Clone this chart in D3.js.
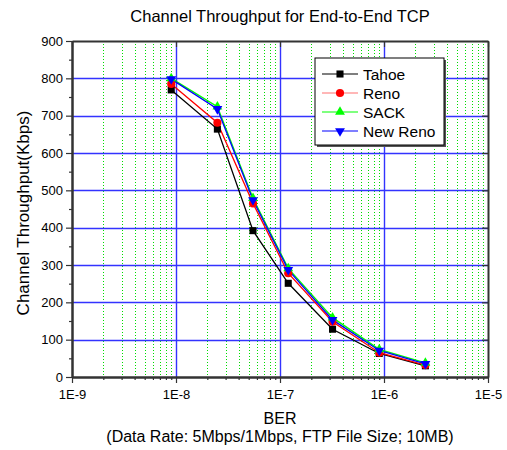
<!DOCTYPE html>
<html>
<head>
<meta charset="utf-8">
<script src="https://cdn.jsdelivr.net/npm/d3@7"></script>
<style>
  body { margin: 0; background: #fff; }
  text { font-family: "Liberation Sans", Arial, sans-serif; fill: #000; }
</style>
</head>
<body>
<svg id="chart" width="507" height="450"></svg>
<script>
// data
const ber = [9e-9, 2.5e-8, 5.5e-8, 1.2e-7, 3.2e-7, 9e-7, 2.5e-6];
const tahoe = [769, 664, 392, 251, 128, 63, 30];
const reno = [785, 681, 465, 278, 148, 65, 32];
const sack = [800, 724, 479, 291, 159, 74, 38];
const newReno = [798, 718, 474, 287, 153, 71, 35];
const seriesNames = ['Tahoe', 'Reno', 'SACK', 'New Reno'];
const xTicks = [1e-9, 1e-8, 1e-7, 1e-6, 1e-5];
const xTickLabels = ['1E-9', '1E-8', '1E-7', '1E-6', '1E-5'];
const yTicks = [0, 100, 200, 300, 400, 500, 600, 700, 800, 900];

const series = [
    { name: seriesNames[0], values: tahoe, color: '#000000', shape: 'square' },
    { name: seriesNames[1], values: reno, color: '#ff0000', shape: 'circle' },
    { name: seriesNames[2], values: sack, color: '#00ff00', shape: 'triangle' },
    { name: seriesNames[3], values: newReno, color: '#0000ff', shape: 'triangleDown' }
];

const margin = { left: 72, right: 19, top: 41, bottom: 73 };
const width = 507, height = 450;
const svg = d3.select('#chart');

const x = d3.scaleLog().domain([1e-9, 1e-5]).range([margin.left, width - margin.right]);
const y = d3.scaleLinear().domain([0, 900]).range([height - margin.bottom, margin.top]);

// minor decade ticks 2..9
const minorX = [];
for (let e = -9; e < -5; e++) {
    for (let m = 2; m <= 9; m++) minorX.push(m * Math.pow(10, e));
}
const minorY = d3.range(50, 900, 100);

// grid
const grid = svg.append('g').attr('class', 'grid');
grid.selectAll('line.minor-x')
    .data(minorX)
    .enter()
    .append('line')
    .attr('x1', d => Math.round(x(d)) + 0.5)
    .attr('x2', d => Math.round(x(d)) + 0.5)
    .attr('y1', y(900))
    .attr('y2', y(0))
    .attr('stroke', '#00dd00')
    .attr('stroke-width', 1)
    .attr('stroke-dasharray', '1,2');

grid.selectAll('line.major-x')
    .data(xTicks.slice(1, -1))
    .enter()
    .append('line')
    .attr('x1', d => Math.round(x(d)) + 0.5)
    .attr('x2', d => Math.round(x(d)) + 0.5)
    .attr('y1', y(900))
    .attr('y2', y(0))
    .attr('stroke', '#3333ff')
    .attr('stroke-width', 1.4);

grid.selectAll('line.major-y')
    .data(yTicks.slice(1, -1))
    .enter()
    .append('line')
    .attr('x1', x(1e-9))
    .attr('x2', x(1e-5))
    .attr('y1', d => Math.round(y(d)) + 0.5)
    .attr('y2', d => Math.round(y(d)) + 0.5)
    .attr('stroke', '#3333ff')
    .attr('stroke-width', 1.4);

// axes
const axisColor = '#333';
const bottomAxis = svg.append('g')
    .attr('transform', `translate(0,${y(0)})`)
    .call(d3.axisBottom(x).tickValues(xTicks).tickFormat((d, i) => xTickLabels[i]).tickSize(6).tickSizeOuter(0));
const bottomMinor = svg.append('g')
    .attr('transform', `translate(0,${y(0)})`)
    .call(d3.axisBottom(x).tickValues(minorX).tickFormat('').tickSize(3).tickSizeOuter(0));
const leftAxis = svg.append('g')
    .attr('transform', `translate(${x(1e-9)},0)`)
    .call(d3.axisLeft(y).tickValues(yTicks).tickSize(6).tickSizeOuter(0));
const leftMinor = svg.append('g')
    .attr('transform', `translate(${x(1e-9)},0)`)
    .call(d3.axisLeft(y).tickValues(minorY).tickFormat('').tickSize(3).tickSizeOuter(0));
const topAxis = svg.append('g')
    .attr('transform', `translate(0,${y(900)})`)
    .call(d3.axisTop(x).tickValues(xTicks).tickFormat('').tickSize(-6).tickSizeOuter(0));
const rightAxis = svg.append('g')
    .attr('transform', `translate(${x(1e-5)},0)`)
    .call(d3.axisRight(y).tickValues(yTicks).tickFormat('').tickSize(-6).tickSizeOuter(0));

[bottomAxis, bottomMinor, leftAxis, leftMinor, topAxis, rightAxis].forEach(g => {
    g.selectAll('path').attr('stroke', axisColor).attr('stroke-width', 2);
    g.selectAll('line').attr('stroke', axisColor).attr('stroke-width', 1.2);
    g.selectAll('text').attr('font-size', 13).attr('fill', '#000')
        .attr('font-family', '"Liberation Sans", Arial, sans-serif');
});
bottomAxis.selectAll('text').attr('y', 22).attr('dy', 0);

// lines + markers
const line = d3.line()
    .x((d, i) => x(ber[i]))
    .y(d => y(d));

const symbolFor = {
    square: d3.symbol().type(d3.symbolSquare).size(50),
    circle: d3.symbol().type(d3.symbolCircle).size(52),
    triangle: d3.symbol().type(d3.symbolTriangle).size(42),
    triangleDown: d3.symbol().type(d3.symbolTriangle).size(42)
};

const plot = svg.append('g').attr('class', 'series');
series.forEach(s => {
    plot.append('path')
        .datum(s.values)
        .attr('fill', 'none')
        .attr('stroke', s.color)
        .attr('stroke-width', 1.3)
        .attr('d', line);
});
series.forEach(s => {
    plot.selectAll(null)
        .data(s.values)
        .enter()
        .append('path')
        .attr('d', symbolFor[s.shape]())
        .attr('transform', (d, i) => `translate(${x(ber[i])},${y(d)})` + (s.shape === 'triangleDown' ? ' rotate(180)' : ''))
        .attr('fill', s.color);
});

// legend
const legend = svg.append('g').attr('transform', 'translate(315,58)');
legend.append('rect')
    .attr('x', 2).attr('y', 2).attr('width', 129).attr('height', 87)
    .attr('fill', '#555');
legend.append('rect')
    .attr('width', 129).attr('height', 87)
    .attr('fill', '#fff').attr('stroke', '#000').attr('stroke-width', 1);
series.forEach((s, i) => {
    const ly = 16 + i * 19;
    const row = legend.append('g').attr('transform', `translate(0,${ly})`);
    row.append('line')
        .attr('x1', 7).attr('x2', 43).attr('y1', 0).attr('y2', 0)
        .attr('stroke', s.color === '#ff0000' ? '#ff7070' : s.color).attr('stroke-width', 1.2);
    row.append('path')
        .attr('d', symbolFor[s.shape]())
        .attr('transform', 'translate(25,0)' + (s.shape === 'triangleDown' ? ' rotate(180)' : ''))
        .attr('fill', s.color);
    row.append('text')
        .attr('x', 48).attr('y', 5.5)
        .attr('font-size', 15.5)
        .text(s.name);
});

// titles
const cx = (x(1e-9) + x(1e-5)) / 2;
svg.append('text')
    .attr('x', cx).attr('y', 22)
    .attr('text-anchor', 'middle').attr('font-size', 16.5)
    .text('Channel Throughput for End-to-End TCP');
svg.append('text')
    .attr('x', cx).attr('y', 424)
    .attr('text-anchor', 'middle').attr('font-size', 16)
    .text('BER');
svg.append('text')
    .attr('x', cx).attr('y', 442)
    .attr('text-anchor', 'middle').attr('font-size', 16)
    .text('(Data Rate: 5Mbps/1Mbps, FTP File Size; 10MB)');
svg.append('text')
    .attr('transform', 'translate(29,213) rotate(-90)')
    .attr('text-anchor', 'middle').attr('font-size', 17)
    .text('Channel Throughput(Kbps)');
</script>
</body>
</html>
